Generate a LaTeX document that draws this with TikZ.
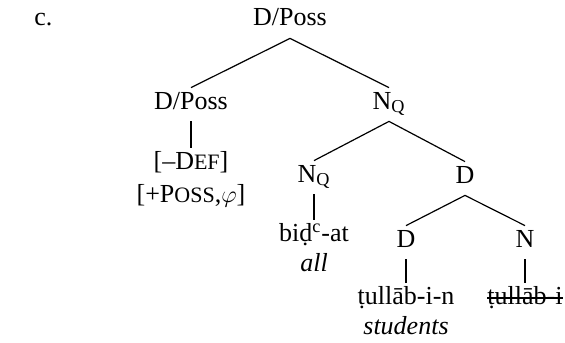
\documentclass[tikz,border=0pt]{standalone}
\usepackage{fontspec}
\setmainfont{Liberation Serif}
\newcommand{\fakesc}[1]{{\fontsize{11pt}{13pt}\selectfont #1}}
\begin{document}
\begin{tikzpicture}[x=0.5pt,y=-0.5pt,
	font=\fontsize{13pt}{15pt}\selectfont,
	cat/.style={inner sep=0pt, anchor=base, text height=10.5pt, text depth=6pt},
	gloss/.style={inner sep=0pt, anchor=base},
	branch/.style={line width=0.6pt},
	stem/.style={line width=1pt},
	strike/.style={line width=1pt}]
	\useasboundingbox (0,0) rectangle (565,342);
	
	\node[gloss, anchor=base west] (ex) at (34,26) {c.};
	
	% Categories
	\node[cat] (top) at (290,26) {D/Poss};
	\node[cat] (dp)  at (191,109) {D/Poss};
	\node[cat] (nq)  at (389,109) {N\textsubscript{Q}};
	\node[cat] (nql) at (314,182) {N\textsubscript{Q}};
	\node[cat] (d)   at (465,183) {D};
	\node[cat] (dl)  at (406,247) {D};
	\node[cat] (n)   at (525,247) {N};
	
	% Leaves
	\node[cat] (def)  at (191,169) {[–D\fakesc{EF}]};
	\node[gloss] (poss) at (191,202) {[+P\fakesc{OSS},$\varphi$]};
	\node[cat] (bid)  at (314,241) {biḍ\textsuperscript{c}-at};
	\node[gloss] (all)  at (314,271) {\textit{all}};
	\node[cat] (tul)  at (406,304) {ṭullāb-i-n};
	\node[gloss] (stud) at (406,334) {\textit{students}};
	\node[cat] (strk) at (525,304) {ṭullāb-i};
	
	% Branches and stems
	\foreach \a/\b in {top/dp, top/nq, nq/nql, nq/d, d/dl, d/n}
		\draw[branch] (\a.south) -- (\b.north);
	\foreach \a/\b in {dp/def, nql/bid, dl/tul, n/strk}
		\draw[stem] (\a.south) -- (\b.north);
	
	\draw[strike] ([yshift=3pt]strk.base west) -- ([yshift=3pt]strk.base east);
\end{tikzpicture}
\end{document}
